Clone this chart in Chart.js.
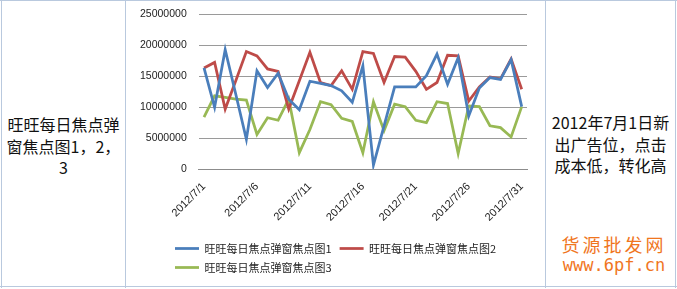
<!DOCTYPE html>
<html>
<head>
<meta charset="utf-8">
<script src="https://cdn.jsdelivr.net/npm/chart.js@4/dist/chart.umd.min.js"></script>
<style>
  html, body { margin:0; padding:0; background:#fff; }
  body { width:677px; height:289px; position:relative; overflow:hidden; font-family:"Noto Sans CJK SC", sans-serif; }
  .vline { position:absolute; top:0; width:1px; height:288px; background:#b9c9de; }
  .hline { position:absolute; left:0; height:1px; width:677px; background:#b9c9de; }
  .cell { position:absolute; text-align:center; font-size:16px; line-height:21.5px; color:#111; }
  #wrap { position:absolute; left:126px; top:2px; width:419px; height:284px; }
  .wm { position:absolute; left:556px; width:116px; text-align:center; color:#f0761e; font-size:18px; }
</style>
</head>
<body>
<div class="hline" style="top:0"></div>
<div class="hline" style="top:286px"></div>
<div class="vline" style="left:1px"></div>
<div class="vline" style="left:125px"></div>
<div class="vline" style="left:545px"></div>
<div class="vline" style="left:675px"></div>

<div class="cell" style="left:2px;width:123px;top:114px;">旺旺每日焦点弹<br>窗焦点图1，2，<br>3</div>
<div class="cell" style="left:546px;width:129px;top:112px;">2012年7月1日新<br>出广告位，点击<br>成本低，转化高</div>
<div class="wm" style="top:231px;letter-spacing:3px;">货源批发网</div>
<div class="wm" style="top:255px;font-family:'DejaVu Sans Mono',monospace;letter-spacing:0px;font-size:17px;">www.6pf.cn</div>

<div id="wrap"><canvas id="c" width="419" height="284"></canvas></div>

<script>
const categories = ["2012/7/1","2012/7/2","2012/7/3","2012/7/4","2012/7/5","2012/7/6","2012/7/7","2012/7/8","2012/7/9","2012/7/10",
  "2012/7/11","2012/7/12","2012/7/13","2012/7/14","2012/7/15","2012/7/16","2012/7/17","2012/7/18","2012/7/19","2012/7/20",
  "2012/7/21","2012/7/22","2012/7/23","2012/7/24","2012/7/25","2012/7/26","2012/7/27","2012/7/28","2012/7/29","2012/7/30","2012/7/31"];
const seriesNames = ["旺旺每日焦点弹窗焦点图1","旺旺每日焦点弹窗焦点图2","旺旺每日焦点弹窗焦点图3"];
const series1 = [16350000,10000000,19300000,12100000,4800000,15900000,13200000,15500000,11300000,9600000,
  14200000,13850000,13500000,12650000,10800000,16700000,650000,7000000,13300000,13300000,
  13300000,15100000,18600000,13700000,18000000,8600000,13100000,14800000,14500000,17700000,10100000];
const series2 = [16350000,17250000,9700000,14300000,19000000,18300000,16200000,15800000,9700000,14300000,
  18900000,14000000,13500000,15900000,12900000,19000000,18700000,14000000,18200000,18100000,
  15800000,12900000,14000000,18400000,18300000,11000000,13300000,14900000,14600000,17800000,12900000];
const series3 = [8400000,11850000,11600000,11300000,11150000,5600000,8300000,7900000,11300000,2650000,
  6400000,10900000,10400000,8200000,7700000,2650000,10900000,6200000,10500000,10100000,
  7900000,7500000,10900000,10600000,2500000,10200000,10100000,7000000,6700000,5200000,10100000];
const yTicks = [0,5000000,10000000,15000000,20000000,25000000];
const colors = ["#4a7ebb","#be4b48","#98b954"];

const legendShift = {
  id: 'legendShift',
  afterLayout(chart) {
    const lg = chart.legend;
    lg.left += 29; lg.right += 29;
  }
};

new Chart(document.getElementById('c'), {
  type: 'line',
  data: {
    labels: categories,
    datasets: [series1, series2, series3].map((d, i) => ({
      label: seriesNames[i], data: d, borderColor: colors[i], backgroundColor: colors[i],
      borderWidth: 2.75, pointRadius: 0, tension: 0, fill: false
    }))
  },
  options: {
    responsive: false, animation: false,
    layout: { autoPadding: false, padding: { top: 12.5, right: 18, left: 12, bottom: 3 } },
    plugins: {
      tooltip: { enabled: false },
      legend: {
        position: 'bottom', align: 'start',
        labels: { usePointStyle: true, pointStyle: 'line', pointStyleWidth: 24, boxWidth: 24, boxHeight: 3,
          padding: 8, color: '#222', font: { family: '"Noto Sans CJK SC"', size: 11 } }
      }
    },
    scales: {
      x: {
        offset: true,
        grid: { display: false, drawTicks: false },
        border: { display: true, color: '#8c8c8c', width: 1 },
        ticks: { autoSkip: false, minRotation: 45, maxRotation: 45, padding: 11, color: '#222',
          font: { family: '"Liberation Sans"', size: 11 },
          callback: function(v, i) { return i % 5 === 0 ? categories[i] : ''; } }
      },
      y: {
        min: 0, max: 25000000,
        afterBuildTicks(axis) { axis.ticks = yTicks.map(v => ({ value: v })); },
        grid: { color: '#9a9a9a', lineWidth: 1, drawTicks: true, tickLength: 10, tickColor: 'rgba(0,0,0,0)' },
        border: { display: false },
        ticks: { padding: 2, color: '#222', font: { family: '"Liberation Sans"', size: 10.5 },
          callback: v => String(v) }
      }
    }
  },
  plugins: [legendShift]
});
</script>
</body>
</html>
